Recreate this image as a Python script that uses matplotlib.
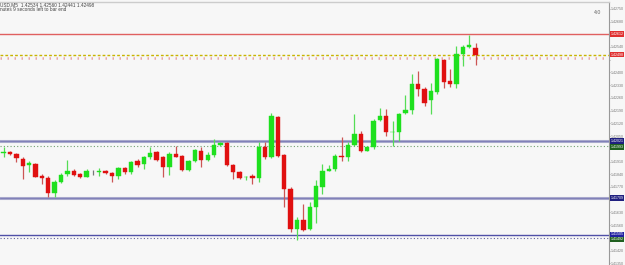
import numpy as np
import matplotlib
matplotlib.use("Agg")
import matplotlib.pyplot as plt
import matplotlib.transforms as mtransforms

# ---- data ----
opens = [1.41906, 1.41959, 1.41961, 1.41951, 1.41924, 1.41893, 1.41897, 1.41833, 1.41820, 1.41736,
         1.41796, 1.41842, 1.41860, 1.41842, 1.41827, 1.41853, 1.41853, 1.41858, 1.41846, 1.41833,
         1.41875, 1.41851, 1.41915, 1.41895, 1.41933, 1.41964, 1.41933, 1.41879, 1.41951, 1.41939,
         1.41866, 1.41911, 1.41966, 1.41919, 1.41948, 1.41999, 1.42012, 1.41891, 1.41851, 1.41824,
         1.41833, 1.41820, 1.41992, 1.41933, 1.42156, 1.41946, 1.41760, 1.41541, 1.41587, 1.41541,
         1.41660, 1.41769, 1.41860, 1.41869, 1.41942, 1.41933, 1.42002, 1.42064, 1.41970, 1.41992,
         1.42141, 1.42161, 1.42070, 1.42074, 1.42179, 1.42194, 1.42338, 1.42307, 1.42247, 1.42294,
         1.42469, 1.42352, 1.42338, 1.42502, 1.42540, 1.42534]
highs = [1.41988, 1.41988, 1.41966, 1.41959, 1.41933, 1.41915, 1.41900, 1.41842, 1.41833, 1.41806,
         1.41846, 1.41919, 1.41869, 1.41846, 1.41869, 1.41866, 1.41875, 1.41864, 1.41851, 1.41882,
         1.41882, 1.41915, 1.41924, 1.41942, 1.41988, 1.41970, 1.41942, 1.41961, 1.41997, 1.41948,
         1.41919, 1.41979, 1.41988, 1.41961, 1.42033, 1.42015, 1.42017, 1.41897, 1.41860, 1.41833,
         1.41842, 1.42015, 1.42015, 1.42179, 1.42159, 1.41951, 1.41769, 1.41605, 1.41674, 1.41687,
         1.41806, 1.41897, 1.41893, 1.41951, 1.42043, 1.42015, 1.42170, 1.42079, 1.41997, 1.42143,
         1.42207, 1.42198, 1.42134, 1.42179, 1.42274, 1.42389, 1.42407, 1.42320, 1.42343, 1.42480,
         1.42473, 1.42420, 1.42544, 1.42549, 1.42608, 1.42560]
lows = [1.41897, 1.41933, 1.41948, 1.41906, 1.41815, 1.41851, 1.41824, 1.41784, 1.41714, 1.41714,
        1.41791, 1.41833, 1.41833, 1.41820, 1.41824, 1.41838, 1.41833, 1.41842, 1.41796, 1.41815,
        1.41842, 1.41842, 1.41882, 1.41869, 1.41924, 1.41915, 1.41827, 1.41838, 1.41933, 1.41860,
        1.41860, 1.41906, 1.41882, 1.41915, 1.41933, 1.41995, 1.41886, 1.41815, 1.41815, 1.41809,
        1.41784, 1.41796, 1.41924, 1.41930, 1.41937, 1.41660, 1.41523, 1.41481, 1.41529, 1.41536,
        1.41572, 1.41733, 1.41857, 1.41860, 1.41915, 1.41911, 1.41997, 1.41961, 1.41966, 1.41979,
        1.42134, 1.42052, 1.41997, 1.42024, 1.42170, 1.42170, 1.42270, 1.42216, 1.42174, 1.42283,
        1.42312, 1.42320, 1.42312, 1.42435, 1.42535, 1.42441]
closes = [1.41951, 1.41962, 1.41951, 1.41930, 1.41888, 1.41900, 1.41827, 1.41820, 1.41736, 1.41796,
          1.41838, 1.41860, 1.41838, 1.41824, 1.41857, 1.41853, 1.41857, 1.41846, 1.41833, 1.41875,
          1.41851, 1.41908, 1.41893, 1.41933, 1.41959, 1.41920, 1.41879, 1.41951, 1.41937, 1.41866,
          1.41911, 1.41973, 1.41919, 1.41948, 1.41999, 1.42010, 1.41889, 1.41851, 1.41820, 1.41827,
          1.41818, 1.41992, 1.41933, 1.42161, 1.41942, 1.41758, 1.41541, 1.41590, 1.41536, 1.41660,
          1.41778, 1.41860, 1.41869, 1.41942, 1.41933, 1.42002, 1.42061, 1.41970, 1.41992, 1.42134,
          1.42159, 1.42070, 1.42074, 1.42174, 1.42194, 1.42338, 1.42307, 1.42234, 1.42298, 1.42473,
          1.42349, 1.42338, 1.42502, 1.42540, 1.42549, 1.42498]

tick_values = [round(1.42750 - 0.0007 * k, 5) for k in range(21)]
hidden_ticks = [2, 4, 11, 15, 18]  # covered by the coloured price boxes

level_red = 1.42612
level_bid = 1.42498
level_bid2 = 1.42478
level_blue1 = 1.42021
level_green1 = 1.41993
level_blue2 = 1.41709
level_blue3 = 1.41505
level_green2 = 1.41492

header1 = "USD,M5  1.42534 1.42560 1.42441 1.42498"
header2 = "nutes 9 seconds left to bar end"

plt.rcParams["font.family"] = ["Liberation Sans", "DejaVu Sans"]

# ---- figure ----
W, H, DPI = 625, 265, 100
fig = plt.figure(figsize=(W / DPI, H / DPI), dpi=DPI, facecolor="#f7f7f7")
ax = fig.add_axes([0, 0, 609 / W, 1 - 1.5 / H])
ax.set_facecolor("#f7f7f7")

n = len(opens)
x = np.arange(n) - 1
o = np.array(opens); c = np.array(closes); h = np.array(highs); l = np.array(lows)
up = c > o
down = c < o
flat = c == o

# horizontal levels
ax.axhline(level_red, color="#e06060", lw=1.0, zorder=1)
ax.axhline(level_bid, color="#c8b400", lw=1.0, ls=(0, (2, 1.5)), zorder=1)
ax.axhline(level_bid2, color="#e8a8a8", lw=1.8, ls=(0, (0.6, 2.2)), zorder=1)
ax.axhline(level_blue1, color="#a8a8cc", lw=2.2, zorder=1)
ax.axhline(level_blue1, color="#7070b0", lw=0.5, zorder=1)
ax.axhline(level_green1, color="#70a070", lw=0.8, ls=(0, (1, 2)), zorder=1)
ax.axhline(level_blue2, color="#a8a8cc", lw=2.2, zorder=1)
ax.axhline(level_blue2, color="#7070b0", lw=0.5, zorder=1)
ax.axhline(level_blue3, color="#5050a8", lw=1.0, zorder=1)
ax.axhline(level_green2, color="#6060a0", lw=0.8, ls=(0, (1, 2)), zorder=1)

# wicks
wick_col = np.where(up, "#55dd55", np.where(down, "#cc5555", "#777777"))
ax.vlines(x, l, h, colors=wick_col, lw=0.9, zorder=2)
# bodies
bw = 0.68
body_lo = np.minimum(o, c)
body_h = np.maximum(np.abs(c - o), 0.000012)
ax.bar(x[up], body_h[up], bottom=body_lo[up], width=bw, color="#1ee01e", edgecolor="#1ee01e", lw=0.3, zorder=3)
ax.bar(x[down], body_h[down], bottom=body_lo[down], width=bw, color="#e01010", edgecolor="#e01010", lw=0.3, zorder=3)
ax.bar(x[flat], body_h[flat], bottom=body_lo[flat], width=bw, color="#777777", lw=0, zorder=3)

# scales
y_top = 1.42790
y_bot = 1.41341
ax.set_ylim(y_bot, y_top)
ax.set_xlim(-0.563, 94.92)

# right price axis
ax.yaxis.tick_right()
ax.set_yticks(tick_values)
labels = ["" if i in hidden_ticks else f"{v:.5f}" for i, v in enumerate(tick_values)]
ax.set_yticklabels(labels)
ax.tick_params(axis="y", length=1.0, width=0.5, color="#888888", labelsize=2.6,
               labelcolor="#777777", pad=0.5)
ax.set_xticks([])
for s in ["left", "bottom"]:
    ax.spines[s].set_visible(False)
ax.spines["right"].set_color("#999999")
ax.spines["right"].set_linewidth(0.8)
ax.spines["top"].set_color("#cccccc")
ax.spines["top"].set_linewidth(1.0)

trans = mtransforms.blended_transform_factory(ax.transAxes, ax.transData)
def box(y, text, fc, label_y=None):
    ax.text(1.0025, y if label_y is None else label_y, text, transform=trans, fontsize=2.6,
            color="white", va="center", ha="left", clip_on=False, zorder=5,
            bbox=dict(boxstyle="square,pad=0.2", fc=fc, ec="none"))

box(level_red, f"{level_red:.5f}", "#e03030")
box(level_bid, f"{level_bid:.5f}", "#e03030")
box(level_blue1, f"{level_blue1:.5f}", "#202080", label_y=level_blue1 + 0.00003)
box(level_green1, f"{level_green1:.5f}", "#206020", label_y=level_green1 - 0.00003)
box(level_blue2, f"{level_blue2:.5f}", "#202080")
box(level_blue3, f"{level_blue3:.5f}", "#2020a0", label_y=level_blue3 + 0.00005)
box(level_green2, f"{level_green2:.5f}", "#206020", label_y=level_green2 - 0.00010)

# header texts
fig.text(0.5 / W, 1 - 4.5 / H, header1, fontsize=3.4, color="#444444", va="center", ha="left")
fig.text(0.5 / W, 1 - 9.5 / H, header2, fontsize=3.4, color="#444444", va="center", ha="left")
fig.text(598 / W, 1 - 12 / H, "4:0", fontsize=3.8, color="#666666", va="center", ha="center")

fig.savefig("out.png", dpi=DPI, facecolor=fig.get_facecolor())
